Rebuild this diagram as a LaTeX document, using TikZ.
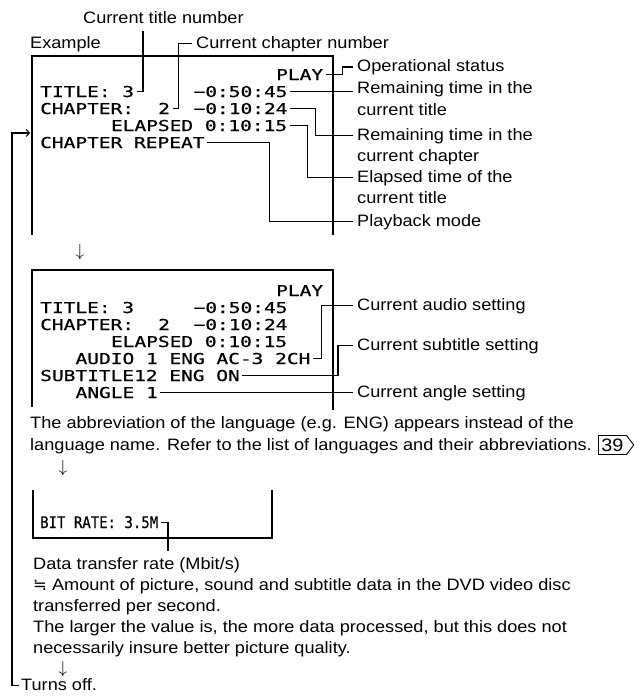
\documentclass[tikz,border=0pt]{standalone}
\usepackage{fontspec}
\setmainfont[FakeStretch=1.1]{Liberation Sans}
\newfontfamily\osdface[FakeStretch=1.3,FakeBold=0.6]{DejaVu Sans Mono}
\newfontfamily\bitface[FakeStretch=0.875,FakeBold=0.6]{DejaVu Sans Mono}
\newfontfamily\symface{DejaVu Sans}
\newcommand\osdfont{\osdface\fontsize{15}{15}\selectfont}
\newcommand\bitfont{\bitface\fontsize{16}{16}\selectfont}
\newcommand\lblfont{\fontsize{16.5}{21}\selectfont}
\usetikzlibrary{arrows.meta,shapes.symbols}

\begin{document}
\begin{tikzpicture}[
    x=1pt, y=-1pt,
    osd/.style={font=\osdfont, inner sep=0pt, text height=11pt, text depth=0pt, anchor=base west},
    bitrate/.style={font=\bitfont, inner sep=0pt, text height=11.5pt, text depth=0pt, anchor=base west},
    lbl/.style={font=\lblfont, inner sep=0pt, text height=12pt, text depth=3pt, anchor=base west},
    darrow/.style={font=\fontsize{18}{18}\selectfont, inner sep=0pt},
    lead/.style={line width=1.1pt, shorten <=2.5pt, shorten >=4.5pt},
    boxline/.style={line width=1.5pt},
    backline/.style={line width=1.1pt, shorten <=2pt, -{Straight Barb[length=3pt,width=7pt]}}
]
\useasboundingbox (0,0) rectangle (643,697);

% Top labels
\node[lbl] (titlenum) at (83,23) {Current title number};
\node[lbl] (example) at (30,48) {Example};
\node[lbl] (chapnum) at (196,48) {Current chapter number};

% Screen 1
\draw[boxline] (32,235) |- (333,56) -- (333,235);
\node[osd] (play1) at (276,80) {PLAY};
\node[osd] (ttl1) at (40,97) {TITLE: 3};
\node[osd] (trem1) at (193.4,97) {−0:50:45};
\node[osd] (chap1) at (40,114) {CHAPTER:};
\node[osd] (chno1) at (158,114) {2};
\node[osd] (crem1) at (193.4,114) {−0:10:24};
\node[osd] (ela1) at (110.8,131) {ELAPSED 0:10:15};
\node[osd] (rep1) at (40,148) {CHAPTER REPEAT};

% Screen 1 labels
\node[lbl] (opstat) at (357,71.5) {Operational status};
\node[lbl] (remt1) at (357,93.5) {Remaining time in the};
\node[lbl] (remt2) at (357,115) {current title};
\node[lbl] (remc1) at (357,140) {Remaining time in the};
\node[lbl] (remc2) at (357,161) {current chapter};
\node[lbl] (elap1) at (357,182) {Elapsed time of the};
\node[lbl] (elap2) at (357,203) {current title};
\node[lbl] (pmode) at (357,226) {Playback mode};

% Screen 1 leaders
\coordinate (ttltop) at (143,31);
\draw[lead, shorten >=0pt] (ttl1.east) -| (ttltop);
\draw[lead] (chno1.east) -- ++(8,0) |- (chapnum.west);
\draw[lead] (play1.east) -- ++(19,0) |- (opstat.west);
\draw[lead] (trem1.east) -- (trem1.east -| remt1.west);
\draw[lead] (crem1.east) -- ++(28,0) |- (remc1.west);
\draw[lead] (ela1.east) -- ++(20,0) |- (elap1.west);
\draw[lead] (rep1.east) -- ++(65,0) |- (pmode.west);

\node[darrow] (dn1) at (80,252) {$\downarrow$};

% Screen 2
\draw[boxline] (32,407) |- (333,270) -- (333,410);
\node[osd] (play2) at (276,296) {PLAY};
\node[osd] (ttl2) at (40,313) {TITLE: 3};
\node[osd] (trem2) at (193.4,313) {−0:50:45};
\node[osd] (chap2) at (40,330) {CHAPTER:};
\node[osd] (chno2) at (158,330) {2};
\node[osd] (crem2) at (193.4,330) {−0:10:24};
\node[osd] (ela2) at (110.8,347) {ELAPSED 0:10:15};
\node[osd] (aud2) at (75.4,364) {AUDIO 1 ENG AC-3 2CH};
\node[osd] (sub2) at (40,381) {SUBTITLE12 ENG ON};
\node[osd] (ang2) at (75.4,398) {ANGLE 1};

% Screen 2 labels
\node[lbl] (audio) at (357,310) {Current audio setting};
\node[lbl] (subt) at (357,350) {Current subtitle setting};
\node[lbl] (angle) at (357,397) {Current angle setting};

% Screen 2 leaders
\draw[lead] (aud2.east) -- ++(11,0) |- (audio.west);
\draw[lead] (sub2.east) -- ++(98,0) |- (subt.west);
\draw[lead] (ang2.east) -- (ang2.east -| angle.west);

% Note
\node[lbl] (abbr1) at (30,428) {The abbreviation of the language (e.g. ENG) appears instead of the};
\node[lbl] (abbr2) at (30,450) {language name. Refer to the list of languages and their abbreviations.};
\node[draw, signal, signal to=east, signal pointer angle=105, line width=0.9pt,
      font=\fontsize{18}{18}\selectfont, inner xsep=3pt, inner ysep=3pt,
      text height=13pt, text depth=0pt, anchor=west] (ref39) at (598,445) {39};

\node[darrow] (dn2) at (63,468) {$\downarrow$};

% Screen 3
\draw[boxline] (33,490) |- (272,538) -- (272,490);
\node[bitrate] (bit3) at (40,528) {BIT RATE: 3.5M};
\coordinate (bitend) at (168,551);
\draw[lead, shorten >=0pt] (bit3.east) -| (bitend);

\node[lbl] (rate1) at (33,569) {Data transfer rate (Mbit/s)};
\node[lbl] (rate2) at (33,590) {{\symface ≒} Amount of picture, sound and subtitle data in the DVD video disc};
\node[lbl] (rate3) at (33,611) {transferred per second.};
\node[lbl] (rate4) at (33,632) {The larger the value is, the more data processed, but this does not};
\node[lbl] (rate5) at (33,653) {necessarily insure better picture quality.};

\node[darrow] (dn3) at (63,669) {$\downarrow$};
\node[lbl] (off) at (21,690) {Turns off.};

% Return line
\coordinate (looptop) at (12,133);
\coordinate (box1in) at (30,133);
\draw[backline] (off.west) -| (looptop) -- (box1in);

\end{tikzpicture}
\end{document}
